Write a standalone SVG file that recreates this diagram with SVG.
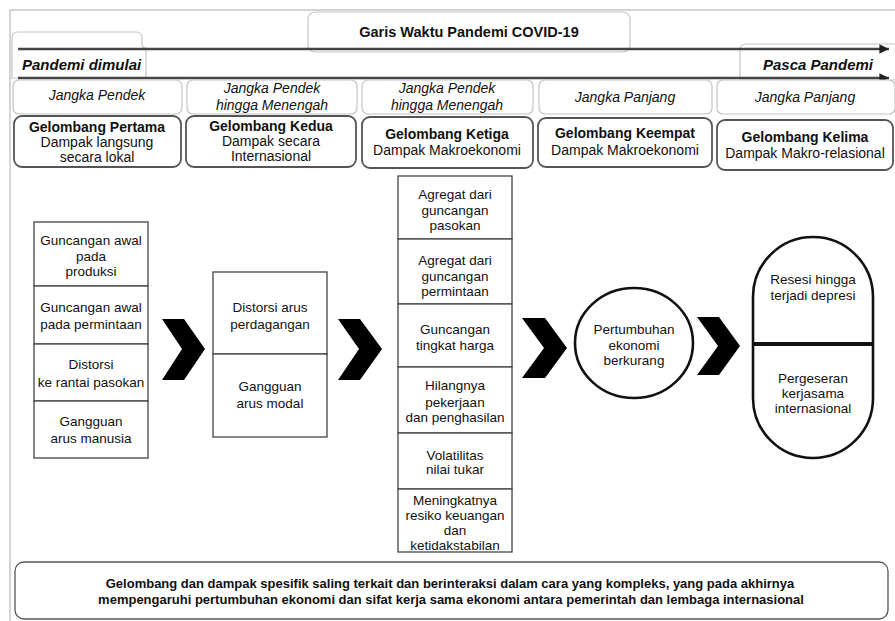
<svg xmlns="http://www.w3.org/2000/svg" width="895" height="621" viewBox="0 0 895 621">
<style>
text{font-family:"Liberation Sans",Arial,sans-serif;fill:#111;text-anchor:middle}
.t13{font-size:13.5px}
.t14{font-size:14px}
.b{font-weight:bold}
.it{font-style:italic;font-size:14px}
.bi{font-style:italic;font-weight:bold;font-size:15px}
.frame{fill:none;stroke:#aaa;stroke-width:1}
.soft{fill:#fff;stroke:#c4c4c4;stroke-width:1.2}
.wave{fill:#fff;stroke:#555;stroke-width:1.8}
.cell{fill:#fff;stroke:#444;stroke-width:1.3}
.bold{fill:#fff;stroke:#111;stroke-width:2.6}
.chev{fill:#000}
.tl{stroke:#444;stroke-width:2.4;fill:none}
</style>
<defs>
<marker id="ah" viewBox="0 0 10 10" refX="10" refY="5" markerWidth="4.5" markerHeight="4" orient="auto" markerUnits="strokeWidth">
<path d="M0,0 L10,5 L0,10 Z" fill="#222"/>
</marker>
</defs>
<rect width="895" height="621" fill="#fff"/>
<!-- outer frame -->
<path class="frame" d="M10,621 L10,10 L895,10"/>

<g id="title">
<rect class="soft" x="308" y="12" width="322" height="40" rx="7"/>
<text class="b" style="font-size:14.5px" x="469" y="37">Garis Waktu Pandemi COVID-19</text>
</g>

<g id="tab-start">
<path class="soft" d="M12,76 L12,38 Q12,32 18,32 L136,32 Q142,32 142,38 L142,44 Q142,48 146,48 L146,78 L12,78 Z"/>
<text class="bi" x="22" y="70" style="text-anchor:start">Pandemi dimulai</text>
</g>

<g id="tab-end">
<path class="soft" d="M740,80 L740,50 Q740,44 746,44 L897,44 L897,80 Z"/>
<text class="bi" x="873" y="70" style="text-anchor:end">Pasca Pandemi</text>
</g>

<g id="connectors">
<line class="tl" x1="18" y1="49" x2="889" y2="49" marker-end="url(#ah)"/>
<line class="tl" x1="18" y1="78" x2="889" y2="78" marker-end="url(#ah)"/>
<path class="chev" d="M162,319 L184,319 L205,349 L184,380 L162,380 L182,349 Z"/>
<path class="chev" d="M338,319 L360,319 L382,349 L360,380 L338,380 L359,349 Z"/>
<path class="chev" d="M522,318 L545,318 L567,348 L545,378 L522,378 L544,348 Z"/>
<path class="chev" d="M697,317 L719,317 L740,346 L719,375 L697,375 L718,346 Z"/>
</g>

<g id="term-1">
<rect class="soft" x="13" y="80" width="169" height="34" rx="6"/>
<text class="it" x="97" y="100">Jangka Pendek</text>
</g>
<g id="term-2">
<rect class="soft" x="187" y="80" width="170" height="34" rx="6"/>
<text class="it" x="272" y="93">Jangka Pendek</text>
<text class="it" x="272" y="110">hingga Menengah</text>
</g>
<g id="term-3">
<rect class="soft" x="362" y="80" width="171" height="34" rx="6"/>
<text class="it" x="447" y="93">Jangka Pendek</text>
<text class="it" x="447" y="110">hingga Menengah</text>
</g>
<g id="term-4">
<rect class="soft" x="539" y="80" width="173" height="34" rx="6"/>
<text class="it" x="625" y="102">Jangka Panjang</text>
</g>
<g id="term-5">
<rect class="soft" x="717" y="80" width="178" height="34" rx="6"/>
<text class="it" x="805" y="102">Jangka Panjang</text>
</g>

<g id="wave-1">
<rect class="wave" x="14" y="116" width="167" height="51" rx="8"/>
<text class="t14 b" x="97" y="132">Gelombang Pertama</text>
<text class="t14" x="97" y="147">Dampak langsung</text>
<text class="t14" x="97" y="162">secara lokal</text>
</g>
<g id="wave-2">
<rect class="wave" x="186" y="116" width="170" height="51" rx="8"/>
<text class="t14 b" x="271" y="131">Gelombang Kedua</text>
<text class="t14" x="271" y="146">Dampak secara</text>
<text class="t14" x="271" y="161">Internasional</text>
</g>
<g id="wave-3">
<rect class="wave" x="362" y="117" width="171" height="51" rx="8"/>
<text class="t14 b" x="447" y="139">Gelombang Ketiga</text>
<text class="t14" x="447" y="155">Dampak Makroekonomi</text>
</g>
<g id="wave-4">
<rect class="wave" x="538" y="118" width="174" height="49" rx="8"/>
<text class="t14 b" x="625" y="138">Gelombang Keempat</text>
<text class="t14" x="625" y="155">Dampak Makroekonomi</text>
</g>
<g id="wave-5">
<rect class="wave" x="717" y="120" width="176" height="50" rx="8"/>
<text class="t14 b" x="805" y="142">Gelombang Kelima</text>
<text class="t14" x="805" y="158">Dampak Makro-relasional</text>
</g>

<g id="col-1">
<rect class="cell" x="34" y="222" width="114" height="64"/>
<text class="t13" x="91" y="245">Guncangan awal</text>
<text class="t13" x="91" y="261">pada</text>
<text class="t13" x="91" y="276">produksi</text>
<rect class="cell" x="34" y="286" width="114" height="58"/>
<text class="t13" x="91" y="312">Guncangan awal</text>
<text class="t13" x="91" y="329">pada permintaan</text>
<rect class="cell" x="34" y="344" width="114" height="57"/>
<text class="t13" x="91" y="369">Distorsi</text>
<text class="t13" x="91" y="387">ke rantai pasokan</text>
<rect class="cell" x="34" y="401" width="114" height="57"/>
<text class="t13" x="91" y="426">Gangguan</text>
<text class="t13" x="91" y="443">arus manusia</text>
</g>

<g id="col-2">
<rect class="cell" x="213" y="272" width="114" height="82"/>
<text class="t13" x="270" y="312">Distorsi arus</text>
<text class="t13" x="270" y="329">perdagangan</text>
<rect class="cell" x="213" y="354" width="114" height="83"/>
<text class="t13" x="270" y="391">Gangguan</text>
<text class="t13" x="270" y="408">arus modal</text>
</g>

<g id="col-3">
<rect class="cell" x="398" y="176" width="114" height="63"/>
<text class="t13" x="455" y="199">Agregat dari</text>
<text class="t13" x="455" y="215">guncangan</text>
<text class="t13" x="455" y="230">pasokan</text>
<rect class="cell" x="398" y="239" width="114" height="65"/>
<text class="t13" x="455" y="265">Agregat dari</text>
<text class="t13" x="455" y="281">guncangan</text>
<text class="t13" x="455" y="296">permintaan</text>
<rect class="cell" x="398" y="304" width="114" height="63"/>
<text class="t13" x="455" y="334">Guncangan</text>
<text class="t13" x="455" y="350">tingkat harga</text>
<rect class="cell" x="398" y="367" width="114" height="66"/>
<text class="t13" x="455" y="390">Hilangnya</text>
<text class="t13" x="455" y="407">pekerjaan</text>
<text class="t13" x="455" y="422">dan penghasilan</text>
<rect class="cell" x="398" y="433" width="114" height="56"/>
<text class="t13" x="455" y="460">Volatilitas</text>
<text class="t13" x="455" y="474">nilai tukar</text>
<rect class="cell" x="398" y="489" width="114" height="63"/>
<text class="t13" x="455" y="505">Meningkatnya</text>
<text class="t13" x="455" y="520">resiko keuangan</text>
<text class="t13" x="455" y="535">dan</text>
<text class="t13" x="455" y="550">ketidakstabilan</text>
</g>

<g id="growth">
<ellipse class="bold" cx="634" cy="343" rx="59" ry="55"/>
<text class="t13" x="634" y="334">Pertumbuhan</text>
<text class="t13" x="634" y="350">ekonomi</text>
<text class="t13" x="634" y="365">berkurang</text>
</g>

<g id="outcome">
<rect class="bold" x="753" y="237" width="120" height="221" rx="60" ry="60"/>
<line x1="753" y1="344" x2="873" y2="344" stroke="#111" stroke-width="4"/>
<text class="t13" x="813" y="284">Resesi hingga</text>
<text class="t13" x="813" y="300">terjadi depresi</text>
<text class="t13" x="813" y="383">Pergeseran</text>
<text class="t13" x="813" y="398">kerjasama</text>
<text class="t13" x="813" y="413">internasional</text>
</g>

<g id="summary">
<rect class="wave" x="15" y="562" width="873" height="57" rx="9" style="stroke-width:1.3"/>
<text class="b" style="font-size:13px" x="450" y="588">Gelombang dan dampak spesifik saling terkait dan berinteraksi dalam cara yang kompleks, yang pada akhirnya</text>
<text class="b" style="font-size:13px" x="451" y="604">mempengaruhi pertumbuhan ekonomi dan sifat kerja sama ekonomi antara pemerintah dan lembaga internasional</text>
</g>
</svg>
